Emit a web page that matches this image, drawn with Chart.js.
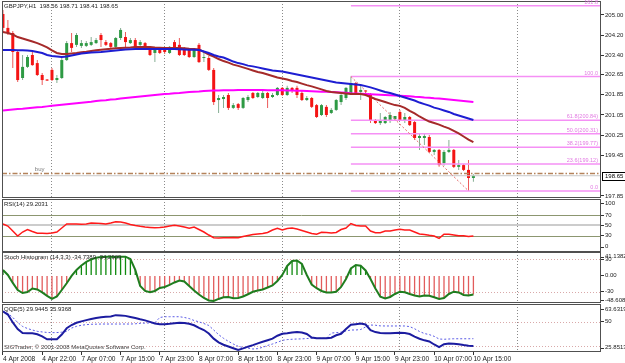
<!DOCTYPE html>
<html><head><meta charset="utf-8">
<script src="https://cdn.jsdelivr.net/npm/chart.js@4.4.1/dist/chart.umd.min.js"></script>
<style>
html,body{margin:0;padding:0;background:#fff;width:625px;height:363px;overflow:hidden;}
.pane{position:absolute;left:0;width:625px;}
</style></head><body>
<div class="pane" style="top:0;height:199px"><canvas id="cMain"></canvas></div>
<div class="pane" style="top:199px;height:53px"><canvas id="cRsi"></canvas></div>
<div class="pane" style="top:252px;height:51px"><canvas id="cSto"></canvas></div>
<div class="pane" style="top:303px;height:60px"><canvas id="cQqe"></canvas></div>
<script>
// ---------------- DATA ----------------
const symbolTitle = "GBPJPY,H1";
const timeLabels = ["4 Apr 2008","4 Apr 22:00","7 Apr 07:00","7 Apr 15:00","7 Apr 23:00","8 Apr 07:00","8 Apr 15:00","8 Apr 23:00","9 Apr 07:00","9 Apr 15:00","9 Apr 23:00","10 Apr 07:00","10 Apr 15:00"];
const LABEL_STEP = 8;
const dayStarts = [10,33,57,81,105];

const openP = [205.04,204.49,204.29,203.54,202.51,202.95,203.42,203.10,202.63,202.43,
202.83,202.43,202.51,203.22,203.89,203.82,203.78,203.78,203.82,203.89,
204.21,203.93,203.89,203.74,204.09,204.13,203.89,204.01,203.82,203.89,
203.74,203.50,203.70,203.66,203.50,203.93,203.82,203.70,203.66,203.34,
203.82,203.30,203.30,202.83,201.64,201.68,201.84,201.33,201.48,201.33,
201.64,201.92,201.76,201.72,201.92,201.76,201.84,202.12,201.84,202.12,
202.12,201.92,201.64,201.72,201.44,201.05,201.37,201.13,201.25,201.56,
201.72,201.92,202.31,201.96,202.00,201.84,200.85,200.73,200.73,200.81,
200.89,201.17,200.85,200.97,200.77,200.14,200.14,200.18,199.59,199.67,
199.15,199.59,199.67,199.00,199.07,198.88,198.56];
const highP = [205.20,204.80,204.37,203.62,203.42,203.42,203.54,203.22,202.71,202.47,
202.91,202.63,203.30,203.97,204.29,204.29,204.01,203.97,204.13,204.09,
204.29,204.01,203.93,204.13,204.49,204.33,204.09,204.09,204.01,203.93,
203.78,203.74,203.74,203.74,203.78,204.01,204.09,203.74,203.70,203.66,
203.89,203.54,203.38,202.91,201.84,201.84,201.92,201.52,201.52,201.76,
201.84,201.96,201.96,202.00,201.96,201.92,202.16,202.16,202.20,202.16,
202.20,202.04,201.80,201.76,201.48,201.48,201.44,201.33,201.68,201.88,
202.16,202.57,202.35,202.23,202.04,201.92,200.89,201.13,201.01,201.17,
201.01,201.25,201.13,201.01,200.81,200.34,200.34,200.26,199.71,199.71,
199.67,200.06,199.71,199.27,199.11,199.27,198.71];
const lowP = [204.33,204.21,202.91,202.35,202.43,202.91,202.99,202.59,202.23,202.39,
202.39,202.31,202.47,203.18,203.54,203.74,203.70,203.74,203.78,203.85,
203.74,203.78,203.70,203.70,204.01,203.74,203.85,203.70,203.78,203.70,
203.38,203.14,203.46,203.46,203.46,203.62,203.38,203.38,203.30,203.30,
203.10,203.14,202.79,201.44,201.13,201.33,201.25,201.29,201.25,201.29,
201.56,201.68,201.72,201.68,201.33,201.72,201.80,201.80,201.80,201.92,
201.72,201.60,201.60,201.33,200.93,201.01,200.97,201.09,201.21,201.44,
201.64,201.84,201.88,201.64,201.92,200.73,200.69,200.65,200.69,200.73,
200.85,200.81,200.73,200.61,200.06,199.67,199.86,199.55,199.47,199.00,
199.04,199.55,198.96,198.88,198.84,198.05,198.41];
const closeP = [204.49,204.29,203.54,202.43,202.95,203.34,203.02,202.63,202.43,202.41,
202.43,202.51,203.22,203.89,203.70,204.21,203.89,203.89,203.93,204.01,
204.01,203.82,203.74,204.09,204.41,203.93,204.01,203.74,203.93,203.74,
203.42,203.70,203.50,203.54,203.74,203.70,203.42,203.42,203.34,203.62,
203.14,203.34,202.83,201.56,201.72,201.76,201.33,201.44,201.33,201.72,
201.76,201.72,201.92,201.92,201.72,201.84,202.12,201.84,202.12,202.00,
201.84,201.64,201.72,201.37,200.97,201.44,201.05,201.25,201.64,201.84,
202.12,202.31,201.92,202.04,201.98,200.85,200.73,200.85,200.97,201.05,
201.01,200.85,200.97,200.65,200.14,200.22,200.22,199.59,199.67,199.07,
199.59,199.67,199.00,199.07,198.88,198.56,198.65];

const maBrown = [204.33,204.29,204.23,204.13,204.07,204.01,203.95,203.89,203.81,203.72,
203.60,203.50,203.46,203.46,203.48,203.50,203.53,203.55,203.58,203.61,
203.63,203.65,203.67,203.69,203.70,203.71,203.72,203.74,203.74,203.74,
203.74,203.72,203.71,203.70,203.70,203.70,203.70,203.69,203.67,203.66,
203.64,203.54,203.44,203.36,203.26,203.18,203.12,203.04,202.99,202.93,
202.87,202.81,202.75,202.71,202.65,202.59,202.53,202.49,202.45,202.39,
202.35,202.29,202.23,202.18,202.12,202.06,202.00,201.96,201.94,201.92,
201.90,201.88,201.88,201.88,201.84,201.76,201.68,201.62,201.56,201.50,
201.44,201.41,201.33,201.21,201.11,200.99,200.89,200.79,200.73,200.67,
200.59,200.52,200.42,200.32,200.20,200.08,199.98];
const maBlue = [203.62,203.62,203.62,203.61,203.61,203.60,203.58,203.54,203.50,203.42,
203.38,203.36,203.34,203.36,203.40,203.44,203.48,203.50,203.52,203.53,
203.54,203.56,203.58,203.60,203.62,203.64,203.65,203.66,203.66,203.66,
203.66,203.66,203.66,203.66,203.66,203.66,203.65,203.64,203.63,203.63,
203.62,203.56,203.50,203.42,203.36,203.32,203.24,203.16,203.10,203.06,
203.00,202.97,202.93,202.89,202.85,202.81,202.79,202.77,202.73,202.69,
202.65,202.61,202.57,202.53,202.49,202.45,202.41,202.37,202.33,202.31,
202.29,202.27,202.25,202.23,202.19,202.14,202.08,202.02,201.96,201.92,
201.86,201.80,201.74,201.68,201.62,201.54,201.48,201.42,201.34,201.29,
201.23,201.17,201.09,201.03,200.97,200.91,200.85];
const maMagenta = [201.23,201.25,201.27,201.29,201.30,201.32,201.34,201.36,201.37,201.39,
201.41,201.43,201.45,201.47,201.49,201.51,201.53,201.55,201.57,201.60,
201.62,201.63,201.66,201.67,201.70,201.72,201.74,201.76,201.78,201.80,
201.82,201.84,201.86,201.88,201.89,201.91,201.92,201.94,201.96,201.97,
201.98,202.00,202.01,202.02,202.02,202.03,202.03,202.03,202.04,202.04,
202.04,202.04,202.04,202.04,202.03,202.03,202.03,202.03,202.02,202.02,
202.01,202.01,202.00,201.99,201.98,201.97,201.97,201.96,201.95,201.94,
201.93,201.91,201.90,201.89,201.88,201.87,201.86,201.85,201.84,201.83,
201.82,201.81,201.80,201.79,201.77,201.76,201.74,201.73,201.71,201.70,
201.68,201.66,201.64,201.62,201.60,201.58,201.56];

const priceTicks = [205.00,204.20,203.40,202.65,201.85,201.05,200.25,199.45,197.85];
const buyPrice = 198.74;
const fibHighIdx = 71, fibLowIdx = 95;
const fibLevels = [0,23.6,38.2,50,61.8,100,161.8];
const fibTexts = ["0.0","23.6(199.12)","38.2(199.77)","50.0(200.31)","61.8(200.84)","100.0","161.8"];

const rsi = [52.6,48.7,39.0,29.4,37.1,41.9,38.1,34.6,34.6,34.2,
35.0,37.1,44.8,52.6,52.4,52.8,52.2,52.6,54.5,54.3,
53.5,52.6,54.5,57.0,56.4,54.5,51.6,49.7,48.1,46.8,
46.0,45.4,45.8,46.8,48.7,50.0,48.7,46.8,44.3,46.8,
41.9,37.1,31.3,26.1,25.5,26.0,25.8,26.3,26.1,28.4,
30.3,32.3,33.2,34.2,36.1,41.0,44.3,41.0,43.9,44.8,
42.9,40.0,37.1,34.2,32.7,36.5,36.1,35.2,36.3,41.9,
44.8,53.5,49.7,48.7,48.7,39.0,35.7,35.7,39.0,39.0,
41.0,42.3,41.0,41.0,37.1,33.2,32.3,30.7,29.4,24.9,
32.7,32.7,31.3,30.0,30.0,28.4,29.2];
const rsiTitle = "RSI(14) 29.2031";

const stoch = [10.1,0.9,-13.7,-26.6,-32.1,-30.2,-23.8,-25.6,-31.1,-37.5,
-43.0,-38.5,-26.6,-14.3,-0.9,10.1,18.3,24.7,29.3,32.6,
33.9,34.4,34.2,33.9,34.4,34.4,30.2,10.1,-19.2,-28.4,
-30.8,-28.4,-22.9,-21.1,-17.4,-12.8,-9.2,-11.0,-19.2,-27.5,
-34.8,-41.2,-45.8,-46.7,-43.0,-39.9,-39.4,-41.8,-41.2,-38.5,
-34.4,-29.9,-27.5,-25.6,-22.0,-18.3,-10.1,0.9,17.4,26.6,
27.5,21.1,0.9,-16.5,-23.4,-28.4,-31.1,-31.1,-29.9,-21.1,
-6.4,12.8,19.2,17.8,9.2,-6.4,-23.8,-38.8,-42.1,-39.4,
-33.9,-29.7,-30.8,-33.9,-36.6,-38.6,-36.6,-37.2,-39.9,-43.0,
-41.2,-33.9,-29.7,-31.1,-35.7,-36.8,-34.7];
const stochTitle = "Stoch Histogram (14,3,3) -34.7389 -34.2909";

const qqeFast = [58.3,55.8,49.3,43.9,40.6,40.4,40.4,39.6,37.8,35.5,
35.5,35.5,39.4,44.5,47.2,49.0,50.2,51.2,52.1,52.9,
53.6,53.9,54.2,55.3,55.1,54.7,53.8,52.9,51.9,51.0,
49.8,48.5,47.9,47.8,48.2,48.7,49.1,48.9,48.2,47.0,
44.9,43.1,40.2,36.0,33.0,31.0,29.6,28.1,26.7,28.0,
29.4,30.7,32.1,33.4,34.7,36.0,38.4,40.0,40.5,41.1,
41.5,41.1,39.8,36.9,36.3,36.3,36.3,36.8,38.8,40.0,
43.9,47.4,47.9,48.4,47.6,42.9,41.4,40.7,40.4,40.4,
40.7,40.9,40.6,39.8,37.7,35.9,34.6,33.7,31.2,29.1,
31.4,32.1,31.9,31.4,30.7,30.1,29.94];
const qqeSlow = [58.7,56.7,53.4,49.3,46.0,44.3,43.1,42.0,41.5,41.1,
40.9,41.0,41.3,41.9,44.7,46.1,47.0,47.5,47.8,47.9,
48.0,48.0,48.0,48.0,48.0,48.0,48.0,48.2,48.6,48.8,
48.9,49.1,53.4,54.0,54.0,54.0,54.0,53.4,52.5,50.9,
49.8,48.4,46.8,43.1,39.3,36.3,33.8,31.6,29.7,28.7,
28.2,27.5,27.8,28.9,30.4,31.6,33.0,34.6,35.2,35.5,
35.7,35.8,36.1,36.3,36.3,36.3,36.3,40.6,40.9,41.3,
42.3,43.1,43.1,43.5,45.6,47.2,47.0,46.5,46.4,46.4,
46.4,46.4,46.4,45.9,44.1,41.9,40.2,39.3,37.9,35.7,
35.5,35.7,35.9,35.9,35.9,35.9,35.94];
const qqeTitle = "QQE(5) 29.9445 35.9368";
const footerText = "SIGTrader, \u00a9 2001-2008 MetaQuotes Software Corp.";

// ---------------- HELPERS ----------------
const FONT = '"Liberation Sans", Arial, Helvetica, sans-serif';
const X_MIN = -0.2, X_MAX = 122.04;
const pts = arr => arr.map((v,i)=>({x:i, y:v}));
const idx = openP.map((_,i)=>i);
const isUp = i => closeP[i] >= openP[i];
const fibHigh = highP[fibHighIdx], fibLow = lowP[fibLowIdx];
const fibPrice = lv => fibLow + (fibHigh - fibLow) * lv / 100;

function xScale(show){
  return {type:'linear', min:X_MIN, max:X_MAX, offset:false, display:show,
    grid:{display:show, drawOnChartArea:false, offset:false, tickLength:3, color:'#333'},
    border:{display:false},
    afterBuildTicks:s=>{ s.ticks = timeLabels.map((t,k)=>({value:k*LABEL_STEP})); },
    afterFit:s=>{ s.height = show ? 11 : 0; s.paddingLeft = 0; s.paddingRight = 0; },
    ticks:{autoSkip:false, maxRotation:0, minRotation:0, align:'start', padding:0, color:'#222',
      font:{family:FONT, size:6.6}, callback:v=>timeLabels[Math.round(v/LABEL_STEP)]}
  };
}
function yScale(min,max,vals,fmt){
  return {position:'right', min, max,
    afterFit:s=>{ s.width = 24; s.paddingTop = 0; s.paddingBottom = 0; },
    afterBuildTicks:s=>{ s.ticks = vals.map(v=>({value:v})); },
    grid:{drawOnChartArea:false, tickLength:3, color:'#333'},
    border:{display:false},
    ticks:{padding:1, color:'#222', font:{family:FONT, size:6}, callback:v=>fmt(v)}
  };
}
function makeDecor(cfg){
  return {
    id:'decor',
    beforeDatasetsDraw(chart){
      const {ctx, chartArea:a} = chart; const x = chart.scales.x, y = chart.scales.y;
      ctx.save();
      ctx.beginPath(); ctx.rect(a.left, a.top, a.right-a.left, a.bottom-a.top); ctx.clip();
      (cfg.levels||[]).forEach(L=>{
        const py = Math.round(y.getPixelForValue(L.v)) + ((L.width||1)%2 ? 0.5 : 0);
        ctx.strokeStyle = L.color; ctx.lineWidth = L.width||1; ctx.setLineDash(L.dash||[]);
        ctx.beginPath(); ctx.moveTo(a.left, py); ctx.lineTo(a.right, py); ctx.stroke();
      });
      ctx.strokeStyle = '#8a8a8a'; ctx.lineWidth = 1; ctx.setLineDash([1,2]);
      dayStarts.forEach(d=>{
        const px = Math.round(x.getPixelForValue(d - 0.1)) + 0.5;
        ctx.beginPath(); ctx.moveTo(px, a.top); ctx.lineTo(px, a.bottom); ctx.stroke();
      });
      ctx.restore();
    },
    afterDraw(chart){
      const {ctx, chartArea:a} = chart;
      ctx.save(); ctx.setLineDash([]);
      ctx.strokeStyle = '#505050'; ctx.lineWidth = 1;
      ctx.strokeRect(a.left+0.5, a.top+0.5, a.right-a.left-1, a.bottom-a.top-1);
      ctx.textAlign = 'left'; ctx.textBaseline = 'middle';
      ctx.font = '6px ' + FONT; ctx.fillStyle = '#222';
      if (cfg.title) ctx.fillText(cfg.title, a.left+2, a.top+5);
      if (cfg.footer){ ctx.fillStyle = '#444'; ctx.fillText(cfg.footer, a.left+2, a.bottom-5); }
      ctx.fillStyle = '#222';
      (cfg.edge||[]).forEach(E=>{
        const py = E.top ? a.top + E.off : a.bottom - E.off;
        ctx.fillText(E.text, a.right+4, py);
        ctx.strokeStyle = '#333'; ctx.beginPath();
        ctx.moveTo(a.right, Math.round(py)+0.5); ctx.lineTo(a.right+3, Math.round(py)+0.5); ctx.stroke();
      });
      if (cfg.extra) cfg.extra(chart, ctx, a);
      ctx.restore();
    }
  };
}
const baseOpts = extra => Object.assign({responsive:true, maintainAspectRatio:false, animation:false, events:[],
  plugins:{legend:{display:false}, tooltip:{enabled:false}}}, extra);
const lineDs = (data, color, width, order, dash) => ({type:'line', data, borderColor:color, borderWidth:width,
  pointRadius:0, tension:0, order, borderDash:dash||[], fill:false});

// ---------------- MAIN ----------------
const mainDatasets = [
  {type:'bar', data:idx.map(i=>({x:i, y:[lowP[i], highP[i]]})), backgroundColor:idx.map(i=>isUp(i)?'#86ae94':'#ec5a5a'),
   barThickness:1, grouped:false, inflateAmount:0, order:20},
  {type:'bar', data:idx.map(i=>({x:i, y:[openP[i], closeP[i]]})), backgroundColor:idx.map(i=>isUp(i)?'#2e9a44':'#f41414'),
   barThickness:3, grouped:false, inflateAmount:0, minBarLength:1, order:19},
  ...fibLevels.map(lv=>lineDs([{x:fibHighIdx, y:fibPrice(lv)}, {x:X_MAX, y:fibPrice(lv)}], '#f590f5', 1.5, 15)),
  lineDs([{x:fibHighIdx, y:fibHigh}, {x:fibLowIdx, y:fibLow}], '#e46a6a', 1, 13, [2,2]),
  lineDs([{x:X_MIN, y:closeP[closeP.length-1]}, {x:X_MAX, y:closeP[closeP.length-1]}], '#c8c8c8', 1, 14),
  lineDs([{x:X_MIN, y:buyPrice}, {x:X_MAX, y:buyPrice}], '#b4825a', 1.5, 14, [5,2,1.5,2]),
  lineDs(pts(maMagenta), '#ff00ff', 2, 10),
  lineDs(pts(maBrown), '#a52a2a', 2, 9),
  lineDs(pts(maBlue), '#1e1ed2', 2, 8)
];
const last = closeP.length-1;
new Chart(document.getElementById('cMain'), {
  type:'bar',
  data:{datasets:mainDatasets},
  options: baseOpts({layout:{padding:{left:2, right:0, top:1, bottom:1}},
    scales:{x:xScale(false), y:yScale(197.77, 205.553, priceTicks, v=>v.toFixed(2))}}),
  plugins:[makeDecor({
    title: symbolTitle + "  " + [openP[last],highP[last],lowP[last],closeP[last]].map(v=>v.toFixed(2)).join(" "),
    extra(chart, ctx, a){
      const x = chart.scales.x, y = chart.scales.y;
      ctx.font = '5.5px ' + FONT; ctx.fillStyle = '#e27ae2'; ctx.textAlign = 'right'; ctx.textBaseline = 'bottom';
      fibLevels.forEach((lv,k)=>{ ctx.fillText(fibTexts[k], a.right-3, y.getPixelForValue(fibPrice(lv)) - 0.5); });
      ctx.textAlign = 'left'; ctx.fillStyle = '#7a7a7a'; ctx.font = '6px ' + FONT;
      ctx.fillText('buy', x.getPixelForValue(6.5), y.getPixelForValue(buyPrice) - 1.5);
      const bid = closeP[last]; const py = Math.round(y.getPixelForValue(bid));
      ctx.fillStyle = '#fff'; ctx.fillRect(a.right+1, py-4, 23, 8);
      ctx.strokeStyle = '#000'; ctx.lineWidth = 1; ctx.strokeRect(a.right+1.5, py-3.5, 23, 8);
      ctx.fillStyle = '#000'; ctx.textBaseline = 'middle'; ctx.font = '6px ' + FONT;
      ctx.fillText(bid.toFixed(2), a.right+4, py+0.5);
    }
  })]
});

// ---------------- RSI ----------------
new Chart(document.getElementById('cRsi'), {
  type:'line',
  data:{datasets:[lineDs(pts(rsi), '#ff1a1a', 1.5, 1)]},
  options: baseOpts({layout:{padding:{left:2, right:0, top:0, bottom:0}},
    scales:{x:xScale(false), y:yScale(-1.55, 100.97, [70,50,30], v=>String(v))}}),
  plugins:[makeDecor({title:rsiTitle,
    levels:[{v:70, color:'#8c9670'}, {v:50, color:'#cccccc', width:2}, {v:30, color:'#8c9670'}],
    edge:[{text:'100', top:true, off:4.3}, {text:'0', top:false, off:5.3}]})]
});

// ---------------- STOCH ----------------
new Chart(document.getElementById('cSto'), {
  type:'bar',
  data:{datasets:[
    {type:'bar', data:pts(stoch), backgroundColor:stoch.map(v=>v>=0?'#0e8a0e':'#e25c5c'), barThickness:1.3, grouped:false, inflateAmount:0, order:2},
    lineDs(pts(stoch), '#1f7d1f', 2, 1)
  ]},
  options: baseOpts({layout:{padding:{left:2, right:0, top:0, bottom:0}},
    scales:{x:xScale(false), y:yScale(-50.44, 42.97, [30,0,-30], v=>v===0?'0.00':String(v))}}),
  plugins:[makeDecor({title:stochTitle,
    levels:[{v:30, color:'#d9a9a9', dash:[1,2]}, {v:-30, color:'#d9a9a9', dash:[1,2]}],
    edge:[{text:'41.1382', top:true, off:4.8}, {text:'-48.6083', top:false, off:3}]})]
});

// ---------------- QQE ----------------
new Chart(document.getElementById('cQqe'), {
  type:'line',
  data:{datasets:[
    lineDs(pts(qqeSlow), '#5a5ae6', 1, 2, [2,2]),
    lineDs(pts(qqeFast), '#1c1ca0', 2, 1)
  ]},
  options: baseOpts({layout:{padding:{left:2, right:0, top:1, bottom:0}},
    scales:{x:xScale(true), y:yScale(25.03, 64.45, [50], v=>String(v))}}),
  plugins:[makeDecor({title:qqeTitle, footer:footerText,
    levels:[{v:50, color:'#d9a9a9', dash:[1,2]}, {v:30, color:'#d9a9a9', dash:[1,2]}],
    edge:[{text:'63.6319', top:true, off:5.3}, {text:'25.8513', top:false, off:4.3}]})]
});
</script>
</body></html>
